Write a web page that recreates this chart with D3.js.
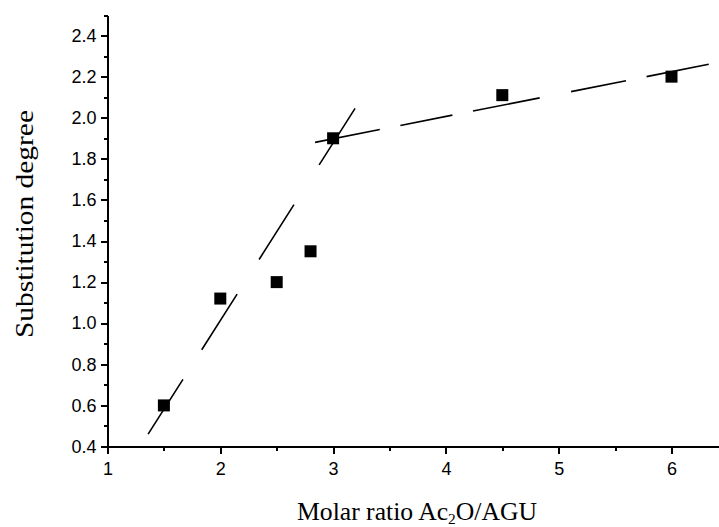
<!DOCTYPE html>
<html>
<head>
<meta charset="utf-8">
<script src="https://cdn.jsdelivr.net/npm/d3@7"></script>
<style>
  html, body { margin: 0; padding: 0; background: #fff; }
  svg { display: block; }
  .axis path, .axis line { stroke: #000; stroke-width: 2; shape-rendering: crispEdges; }
  .axis text { font-family: "Liberation Sans", Arial, sans-serif; font-size: 18px; fill: #000; }
  .title { font-family: "Liberation Serif", "Times New Roman", serif; font-size: 25px; fill: #000; }
  .fit { fill: none; stroke: #000; stroke-width: 1.6; }
</style>
</head>
<body>
<script>
// measured points
var molarRatio = [1.5, 2.0, 2.5, 2.8, 3.0, 4.5, 6.0];
var substDegree = [0.60, 1.12, 1.20, 1.35, 1.90, 2.11, 2.20];

// the two dashed fit lines (end points)
var fitLowX = [1.36, 3.20];
var fitLowY = [0.46, 2.05];
var fitHighX = [2.84, 6.33];
var fitHighY = [1.88, 2.26];

var xTicks = [1, 2, 3, 4, 5, 6];
var xMinor = [1.5, 2.5, 3.5, 4.5, 5.5, 6.5];
var yTicks = [0.4, 0.6, 0.8, 1.0, 1.2, 1.4, 1.6, 1.8, 2.0, 2.2, 2.4];
var yMinor = [0.5, 0.7, 0.9, 1.1, 1.3, 1.5, 1.7, 1.9, 2.1, 2.3, 2.5];

var W = 719, H = 527;

var svg = d3.select("body").append("svg")
    .attr("width", W)
    .attr("height", H);

var x = d3.scaleLinear().domain([1, 6.5]).range([107.5, 107.5 + 5.5 * 112.8]);
var y = d3.scaleLinear().domain([0.4, 2.5]).range([446.5, 15]);

// minor ticks first, then the major axes on top
svg.append("g")
    .attr("class", "axis")
    .attr("transform", "translate(0," + y(0.4) + ")")
    .call(d3.axisBottom(x).tickValues(xMinor).tickSize(4).tickSizeOuter(0).tickFormat(""));

svg.append("g")
    .attr("class", "axis")
    .attr("transform", "translate(" + x(1) + ",0)")
    .call(d3.axisLeft(y).tickValues(yMinor).tickSize(4).tickSizeOuter(0).tickFormat(""));

svg.append("g")
    .attr("class", "axis")
    .attr("transform", "translate(0," + y(0.4) + ")")
    .call(d3.axisBottom(x).tickValues(xTicks).tickSize(7).tickPadding(9).tickSizeOuter(0).tickFormat(d3.format("d")));

svg.append("g")
    .attr("class", "axis")
    .attr("transform", "translate(" + x(1) + ",0)")
    .call(d3.axisLeft(y).tickValues(yTicks).tickSize(7).tickPadding(4).tickSizeOuter(0).tickFormat(d3.format(".1f")));

// dashed fit lines
var line = d3.line()
    .x(function(d) { return x(d[0]); })
    .y(function(d) { return y(d[1]); });

svg.append("path")
    .attr("class", "fit")
    .attr("stroke-dasharray", "65,35,66,41,65,47,67,40")
    .attr("d", line(d3.zip(fitLowX, fitLowY)));

svg.append("path")
    .attr("class", "fit")
    .attr("stroke-dasharray", "66,21,53,21,68,32,56,21,68,21")
    .attr("d", line(d3.zip(fitHighX, fitHighY)));

// square markers
var sq = 12;
svg.append("g")
    .selectAll("rect")
    .data(d3.zip(molarRatio, substDegree))
    .enter().append("rect")
    .attr("x", function(d) { return x(d[0]) - sq / 2; })
    .attr("y", function(d) { return y(d[1]) - sq / 2; })
    .attr("width", sq)
    .attr("height", sq)
    .attr("fill", "#000");

// axis titles
var xt = svg.append("text")
    .attr("class", "title")
    .attr("x", 297)
    .attr("y", 520)
    .attr("textLength", 240)
    .attr("lengthAdjust", "spacingAndGlyphs");
xt.append("tspan").text("Molar ratio Ac");
xt.append("tspan").attr("font-size", "15px").attr("dy", 4).text("2");
xt.append("tspan").attr("dy", -4).text("O/AGU");

svg.append("text")
    .attr("class", "title")
    .attr("text-anchor", "middle")
    .attr("transform", "translate(33,224)rotate(-90)")
    .attr("textLength", 228)
    .attr("lengthAdjust", "spacingAndGlyphs")
    .text("Substitution degree");
</script>
</body>
</html>
